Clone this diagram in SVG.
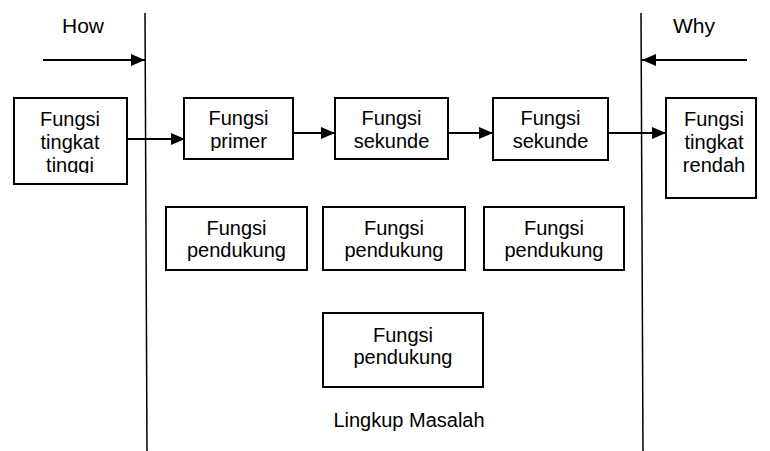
<svg xmlns="http://www.w3.org/2000/svg" width="770" height="451" viewBox="0 0 770 451">
<style>
.box{fill:#fff;stroke:#000;stroke-width:2}
.t{font-family:"Liberation Sans",Arial,sans-serif;font-size:20px;fill:#000;text-anchor:middle}
.c{stroke:#000;stroke-width:2;fill:none}
.v{stroke:#000;stroke-width:1.5;fill:none}
</style>
<defs>
<marker id="ah" markerWidth="14" markerHeight="12" refX="14" refY="6" orient="auto" markerUnits="userSpaceOnUse">
<path d="M0,0 L14,6 L0,12 Z" fill="#000"/>
</marker>
<clipPath id="c1"><rect x="14" y="98" width="113" height="75"/></clipPath>
<clipPath id="c2"><rect x="184" y="98" width="109" height="53"/></clipPath>
</defs>
<rect width="770" height="451" fill="#fff"/>
<g id="boundaries">
<line class="v" x1="145" y1="13" x2="147" y2="451"/>
<line class="v" x1="641" y1="13" x2="643" y2="451"/>
</g>
<g id="labels">
<text class="t" x="83" y="33" style="font-size:21px">How</text>
<text class="t" x="694" y="33" style="font-size:21px">Why</text>
<text class="t" x="409" y="427">Lingkup Masalah</text>
</g>
<g id="connectors">
<line class="c" x1="43" y1="60" x2="145" y2="60" marker-end="url(#ah)"/>
<line class="c" x1="747" y1="60" x2="642" y2="60" marker-end="url(#ah)"/>
<line class="c" x1="127" y1="139" x2="185" y2="139" marker-end="url(#ah)"/>
<line class="c" x1="293" y1="133" x2="335" y2="133" marker-end="url(#ah)"/>
<line class="c" x1="448" y1="133" x2="493" y2="133" marker-end="url(#ah)"/>
<line class="c" x1="608" y1="133" x2="666" y2="133" marker-end="url(#ah)"/>
</g>
<g id="n-tinggi">
<rect class="box" x="14" y="98" width="113" height="86"/>
<g clip-path="url(#c1)">
<text class="t" x="70" y="126">Fungsi</text>
<text class="t" x="70" y="149">tingkat</text>
<text class="t" x="70" y="172">tinggi</text>
</g>
</g>
<g id="n-primer">
<rect class="box" x="184" y="98" width="109" height="61"/>
<g clip-path="url(#c2)">
<text class="t" x="238.5" y="125">Fungsi</text>
<text class="t" x="238.5" y="148">primer</text>
</g>
</g>
<g id="n-sekunde1">
<rect class="box" x="335" y="98" width="113" height="61"/>
<text class="t" x="391.5" y="125">Fungsi</text>
<text class="t" x="391.5" y="148">sekunde</text>
</g>
<g id="n-sekunde2">
<rect class="box" x="493" y="98" width="115" height="62"/>
<text class="t" x="550.5" y="125">Fungsi</text>
<text class="t" x="550.5" y="148">sekunde</text>
</g>
<g id="n-rendah">
<rect class="box" x="666" y="98" width="90" height="100"/>
<text class="t" x="714" y="126">Fungsi</text>
<text class="t" x="714" y="149">tingkat</text>
<text class="t" x="714" y="172">rendah</text>
</g>
<g id="n-pendukung1">
<rect class="box" x="166" y="207" width="141" height="63"/>
<text class="t" x="236.5" y="235">Fungsi</text>
<text class="t" x="236.5" y="257">pendukung</text>
</g>
<g id="n-pendukung2">
<rect class="box" x="323" y="207" width="142" height="63"/>
<text class="t" x="394" y="235">Fungsi</text>
<text class="t" x="394" y="257">pendukung</text>
</g>
<g id="n-pendukung3">
<rect class="box" x="484" y="207" width="140" height="63"/>
<text class="t" x="554" y="235">Fungsi</text>
<text class="t" x="554" y="257">pendukung</text>
</g>
<g id="n-pendukung4">
<rect class="box" x="323" y="313" width="160" height="74"/>
<text class="t" x="403" y="342">Fungsi</text>
<text class="t" x="403" y="364">pendukung</text>
</g>
</svg>
